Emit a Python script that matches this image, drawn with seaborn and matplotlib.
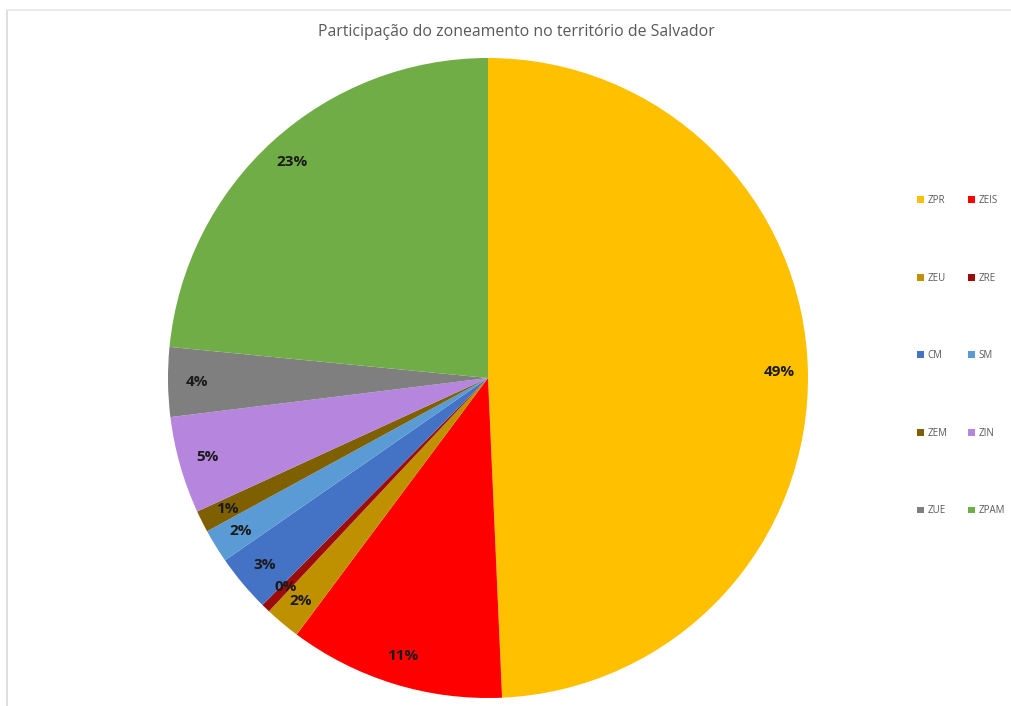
import matplotlib
matplotlib.use('Agg')
import matplotlib.pyplot as plt
import seaborn as sns
from matplotlib.patches import Patch
from matplotlib.lines import Line2D

# zoning shares in Salvador (percent)
zones = ['ZPR', 'ZEIS', 'ZEU', 'ZRE', 'CM', 'SM', 'ZEM', 'ZIN', 'ZUE', 'ZPAM']
shares = [49.3, 10.9, 1.8, 0.45, 2.9, 1.7, 1.1, 4.9, 3.5, 23.45]
colors = ['#FFC000', '#FF0000', '#BF9000', '#9E0B0B', '#4472C4',
          '#5B9BD5', '#7F6000', '#B685DD', '#7F7F7F', '#70AD47']
title = 'Participação do zoneamento no território de Salvador'

sns.set_style('white')
plt.rcParams['font.family'] = ['Open Sans', 'DejaVu Sans']

fig = plt.figure(figsize=(10.12, 7.06), dpi=100)
W, H = 1012, 706
cx, cy, r = 488, 378, 320
ax = fig.add_axes([(cx - r) / W, (H - cy - r) / H, 2 * r / W, 2 * r / H])

wedges, texts, autotexts = ax.pie(
    shares, colors=colors, startangle=90, counterclock=False,
    autopct=lambda p: f'{p:.0f}%', pctdistance=0.91,
    wedgeprops=dict(linewidth=0),
    textprops=dict(fontsize=11, fontweight='bold', color='#1a1a1a'))
ax.set_xlim(-1, 1)
ax.set_ylim(-1, 1)
ax.set_aspect('auto')
ax.axis('off')

fig.text(516 / W, 1 - 32 / H, title, ha='center', va='center',
         fontsize=11.4, color='#595959')

# legend: two columns, row-major order like the original
order = [0, 2, 4, 6, 8, 1, 3, 5, 7, 9]
handles = [Patch(facecolor=colors[i], edgecolor='none') for i in order]
labels = [zones[i] for i in order]
fig.legend(handles, labels, ncol=2, loc='upper left',
           bbox_to_anchor=(917 / W, 1 - 195 / H), frameon=False,
           fontsize=7, labelcolor='#595959', handlelength=0.7,
           handleheight=0.7, handletextpad=0.4, columnspacing=2.1,
           labelspacing=6.85, borderaxespad=0, borderpad=0)

# faint chart-area border
fig.add_artist(Line2D([7.5 / W, 7.5 / W], [0, 1 - 10 / H],
                      color='#D9D9D9', lw=1.2))
fig.add_artist(Line2D([7.5 / W, 1], [1 - 10 / H, 1 - 10 / H],
                      color='#E6E6E6', lw=1.2))

fig.savefig('out.png', dpi=100)
